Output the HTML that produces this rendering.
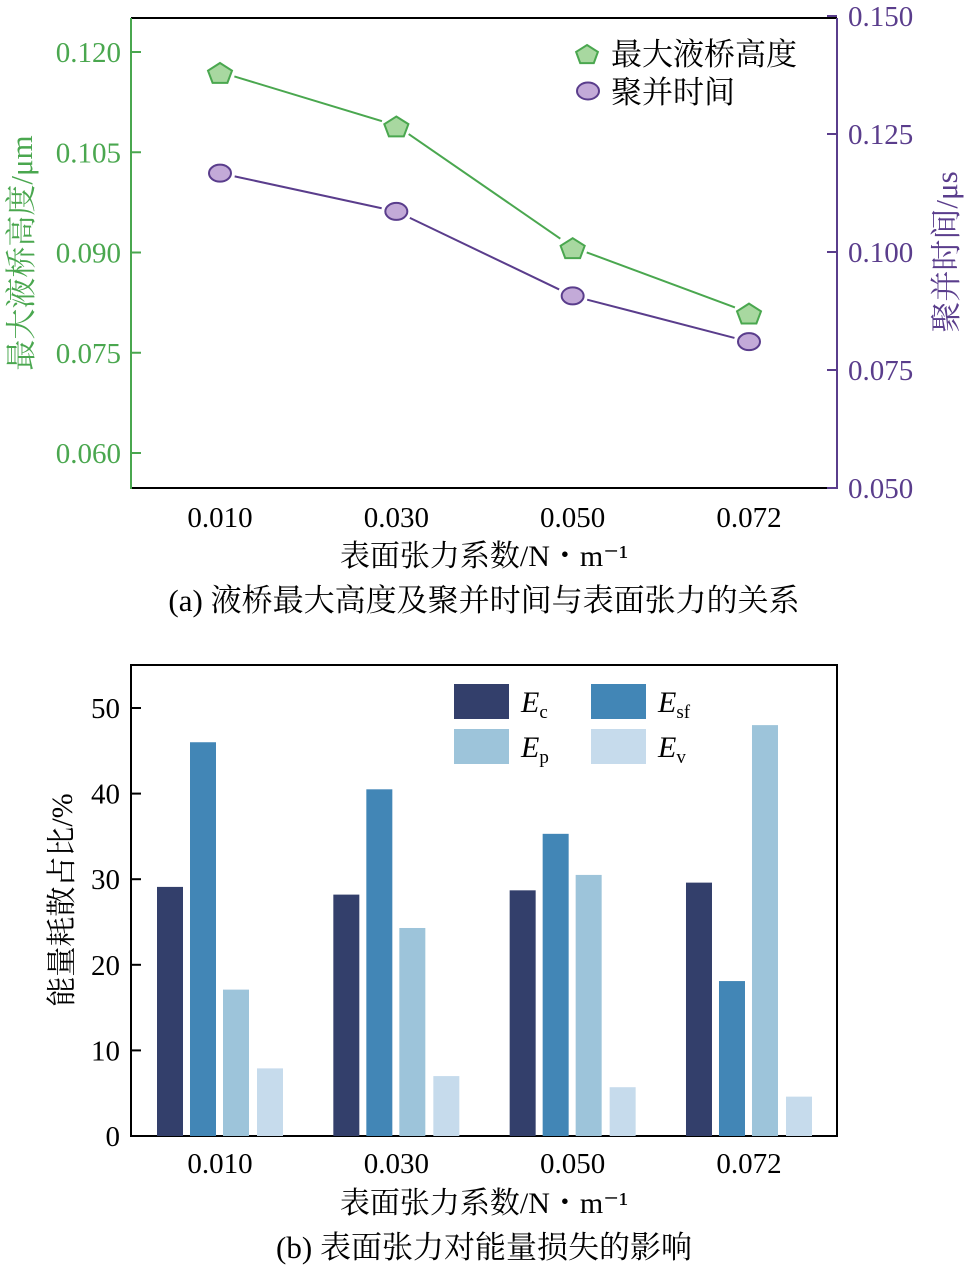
<!DOCTYPE html>
<html><head><meta charset="utf-8"><style>
body{margin:0;background:#fff}
svg{display:block}
text{font-family:"Liberation Serif","Noto Serif CJK SC",serif}
</style></head><body>
<svg id="s" width="964" height="1271" xmlns="http://www.w3.org/2000/svg"></svg>
<script>
const categories=["0.010","0.030","0.050","0.072"];
const heightVals=[0.117,0.109,0.0908,0.081];
const timeVals=[0.1167,0.1086,0.0907,0.081];
const leftTicks=[0.060,0.075,0.090,0.105,0.120];
const rightTicks=[0.050,0.075,0.100,0.125,0.150];
const barSeriesNames=["Ec","Esf","Ep","Ev"];
const Ec=[29.1,28.2,28.7,29.6];
const Esf=[46.0,40.5,35.3,18.1];
const Ep=[17.1,24.3,30.5,48.0];
const Ev=[7.9,7.0,5.7,4.6];
const barTicks=[0,10,20,30,40,50];

const NS="http://www.w3.org/2000/svg";
const s=document.getElementById('s');
function el(t,a,txt,name,inter){const e=document.createElementNS(NS,t);for(const k in a)e.setAttribute(k,a[k]);if(txt!=null)e.textContent=txt;


s.appendChild(e);return e;}
const G="#4aa74f",GF="#a8d8a0",P="#5a3d8c",PF="#c3aad8";
const xc=i=>220+i*176.33;
const yL=v=>453-(v-0.060)/0.015*100.25;
const yR=v=>488-(v-0.050)/0.025*118;
el('line',{x1:131,y1:18,x2:837,y2:18,stroke:'#000','stroke-width':2},null,'top-frame');
el('line',{x1:131,y1:488,x2:837,y2:488,stroke:'#000','stroke-width':2},null,'x-axis-a');
el('line',{x1:131,y1:18,x2:131,y2:489,stroke:G,'stroke-width':2},null,'left-y-axis');
el('line',{x1:837,y1:18,x2:837,y2:489,stroke:P,'stroke-width':2},null,'right-y-axis');
leftTicks.forEach(t=>{const y=yL(t);el('line',{x1:131,y1:y,x2:141,y2:y,stroke:G,'stroke-width':2},null,'left-tick');
el('text',{x:121,y:y+10,'text-anchor':'end','font-size':29,fill:G},t.toFixed(3),'left-tick-label');});
rightTicks.forEach(t=>{const y=yR(t);el('line',{x1:827,y1:y,x2:837,y2:y,stroke:P,'stroke-width':2},null,'right-tick');
el('text',{x:848,y:y+10,'font-size':29,fill:P},t.toFixed(3),'right-tick-label');});
categories.forEach((c,i)=>el('text',{x:xc(i),y:527,'text-anchor':'middle','font-size':29},c,'x-tick-label-a'));
el('text',{x:484,y:566,'text-anchor':'middle','font-size':30},'表面张力系数/N・m⁻¹','x-axis-title-a');
el('text',{x:484,y:611,'text-anchor':'middle','font-size':31},'(a) 液桥最大高度及聚并时间与表面张力的关系','caption-a');
el('text',{x:0,y:0,'text-anchor':'middle','font-size':31,fill:G,transform:'translate(32,253) rotate(-90)'},'最大液桥高度/μm','left-y-title');
el('text',{x:0,y:0,'text-anchor':'middle','font-size':31,fill:P,transform:'translate(957,252) rotate(-90)'},'聚并时间/μs','right-y-title');
function seg(pts,col,name){for(let i=0;i<pts.length-1;i++){const[a,b]=[pts[i],pts[i+1]];const dx=b[0]-a[0],dy=b[1]-a[1],L=Math.hypot(dx,dy),g=15;
el('line',{x1:a[0]+dx/L*g,y1:a[1]+dy/L*g,x2:b[0]-dx/L*g,y2:b[1]-dy/L*g,stroke:col,'stroke-width':2},null,name);}}
const hp=heightVals.map((v,i)=>[xc(i),yL(v)]);const tp=timeVals.map((v,i)=>[xc(i),yR(v)]);
seg(hp,G,'height-line');seg(tp,P,'time-line');
function pent(cx,cy,r){let p=[];for(let k=0;k<5;k++){const a=-Math.PI/2+k*2*Math.PI/5;p.push((cx+r*1.15*Math.cos(a)).toFixed(1)+','+(cy+2+r*Math.sin(a)).toFixed(1));}return p.join(' ');}
hp.forEach(p=>el('polygon',{points:pent(p[0],p[1],11),fill:GF,stroke:G,'stroke-width':2},null,'height-point'));
tp.forEach(p=>el('ellipse',{cx:p[0],cy:p[1],rx:11,ry:8.5,fill:PF,stroke:P,'stroke-width':2},null,'time-point'));
el('polygon',{points:pent(587,53,10),fill:GF,stroke:G,'stroke-width':2},null,'legend-height-marker');
el('text',{x:611,y:65,'font-size':31},'最大液桥高度','legend-height-label');
el('ellipse',{cx:588,cy:91,rx:11,ry:8.5,fill:PF,stroke:P,'stroke-width':2},null,'legend-time-marker');
el('text',{x:611,y:103,'font-size':31},'聚并时间','legend-time-label');
const yB=v=>1136-v*8.56;
const cols=["#333f6b","#4286b6","#9dc4da","#c6dbec"];
const series=[Ec,Esf,Ep,Ev];const offs=[-50,-17,16,50];
el('rect',{x:131,y:665,width:706,height:471,fill:'none',stroke:'#000','stroke-width':2},null,'plot-frame-b');
series.forEach((ser,si)=>ser.forEach((v,i)=>el('rect',{x:xc(i)+offs[si]-13,y:yB(v),width:26,height:1136-yB(v),fill:cols[si]},null,'bar-'+barSeriesNames[si].toLowerCase())));
barTicks.forEach(t=>{const y=yB(t);el('line',{x1:131,y1:y,x2:141,y2:y,stroke:'#000','stroke-width':2},null,'y-tick-b');
el('text',{x:120,y:y+10,'text-anchor':'end','font-size':29},String(t),'y-tick-label-b');});
categories.forEach((c,i)=>el('text',{x:xc(i),y:1173,'text-anchor':'middle','font-size':29},c,'x-tick-label-b'));
el('text',{x:484,y:1213,'text-anchor':'middle','font-size':30},'表面张力系数/N・m⁻¹','x-axis-title-b');
el('text',{x:484,y:1258,'text-anchor':'middle','font-size':31},'(b) 表面张力对能量损失的影响','caption-b');
el('text',{x:0,y:0,'text-anchor':'middle','font-size':30,transform:'translate(72,900) rotate(-90)'},'能量耗散占比/%','y-axis-title-b');
const lg=[[454,684,'E','c'],[591,684,'E','sf'],[454,729,'E','p'],[591,729,'E','v']];
lg.forEach((l,i)=>{el('rect',{x:l[0],y:l[1],width:55,height:35,fill:cols[i]},null,'legend-swatch-'+barSeriesNames[i].toLowerCase());
const t=el('text',{x:l[0]+67,y:l[1]+28,'font-size':30,'font-style':'italic'},l[2],'legend-label-'+barSeriesNames[i].toLowerCase());
const ts=document.createElementNS(NS,'tspan');ts.setAttribute('font-size','19');ts.setAttribute('font-style','normal');ts.setAttribute('dy','6');ts.textContent=l[3];t.appendChild(ts);});
</script>
</body></html>
